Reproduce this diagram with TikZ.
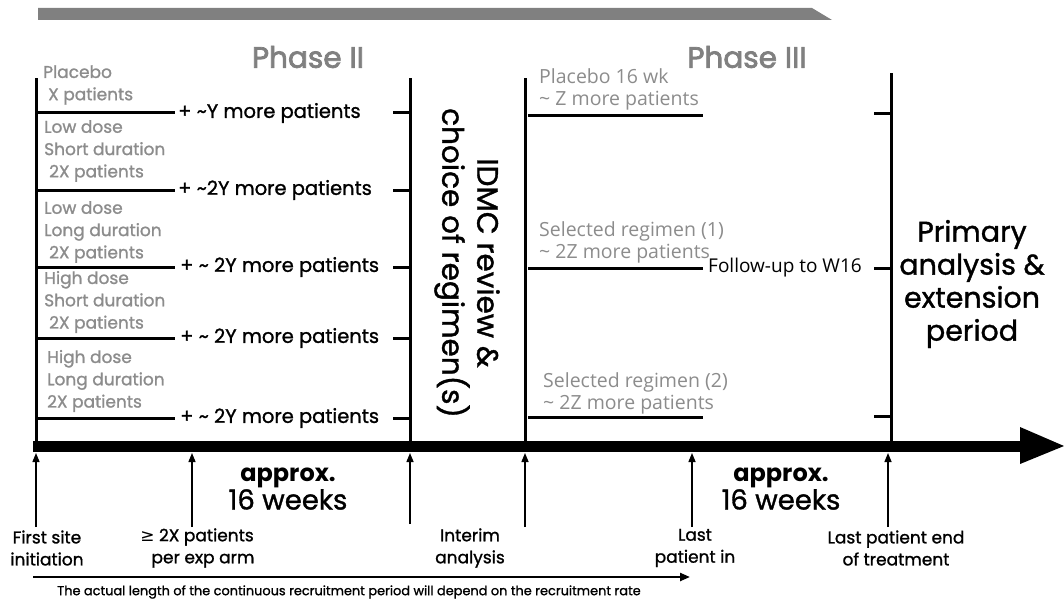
\documentclass[tikz,border=0pt]{standalone}
\usepackage{fontspec}
\setmainfont{Poppins}[FakeBold=1.2]
\newfontfamily\plainfont{Poppins}
\newfontfamily\headfont{Poppins}[FakeBold=2.5]
\newfontfamily\labelfont{Open Sans}
\newfontfamily\symbolfont{DejaVu Sans}
\usetikzlibrary{positioning,arrows.meta}

\definecolor{armgray}{HTML}{8C8C8C}
\definecolor{bargray}{HTML}{808080}

\tikzset{
  thick line/.style={line width=3pt},
  armtext/.style={anchor=west, align=left, inner sep=0pt, text=armgray,
    font=\fontsize{17}{22.3}\selectfont},
  moretext/.style={anchor=west, inner sep=0pt, font=\fontsize{19.5}{20}\selectfont},
  phasetext/.style={inner sep=0pt, text=bargray, font=\headfont\fontsize{29.5}{30}\selectfont},
  regimentext/.style={anchor=west, align=left, inner sep=0pt, text=armgray,
    font=\labelfont\fontsize{19.5}{22}\selectfont},
  milestone/.style={align=center, inner sep=0pt, font=\fontsize{17}{22}\selectfont},
  weeks/.style={align=center, inner sep=0pt, font=\fontsize{27.5}{26}\selectfont},
  uparrow/.style={line width=1.4pt, -{Triangle[length=9pt,width=7pt]}}
}

\begin{document}
\begin{tikzpicture}[x=1pt,y=-1pt]
\useasboundingbox (0,0) rectangle (1064,602);

% banner
\fill[bargray] (38,8) -- (812,8) -- (832,20) -- (38,20) -- cycle;

% headers
\node[phasetext] (ph2) at (308,57) {Phase II};
\node[phasetext] (ph3) at (747,57) {Phase III};

% time line
\coordinate (tstart) at (33,446.5);
\coordinate (tend) at (1021,446.5);
\draw[line width=11pt] (tstart) -- (tend);
\fill (1020,427) -- (1064,446) -- (1020,464) -- cycle;

% phase borders
\draw[thick line] (36,78) -- (36,441);
\draw[thick line] (410,78) -- (410,441);
\draw[thick line] (525,78) -- (525,441);
\draw[thick line] (891,73) -- (891,441);

% phase II arms
\foreach \y in {112,190,267,338,418}{
  \draw[thick line] (36,\y) -- (175,\y);
  \draw[thick line] (393,\y) -- (410,\y);
}
\node[armtext] (placebo) at (43,85) {Placebo\\\hspace{5pt}X patients};
\node[armtext] (lowshort) at (44,151) {Low dose\\Short duration\\\hspace{5pt}2X patients};
\node[armtext] (lowlong) at (44,232) {Low dose\\Long duration\\\hspace{5pt}2X patients};
\node[armtext] (highshort) at (44,302) {High dose\\Short duration\\\hspace{5pt}2X patients};
\node[armtext] (highlong) at (47,381) {High dose\\Long duration\\2X patients};

\node[moretext] (more1) at (178,113) {+ \textasciitilde Y more patients};
\node[moretext] (more2) at (178,190) {+ \textasciitilde 2Y more patients};
\node[moretext] (more3) at (180,267) {+ \textasciitilde\ 2Y more patients};
\node[moretext] (more4) at (180,338) {+ \textasciitilde\ 2Y more patients};
\node[moretext] (more5) at (180,418) {+ \textasciitilde\ 2Y more patients};

% IDMC
\node[rotate=-90, align=center, inner sep=0pt, font=\fontsize{29.5}{35}\selectfont]
  (idmc) at (467,263) {IDMC review \&\\choice of regimen(s)};

% phase III arms
\foreach \y in {115,268,417}{
  \draw[thick line] (528,\y) -- (703,\y);
}
\foreach \y in {113,268,416}{
  \draw[thick line] (874,\y) -- (891,\y);
}
\node[regimentext] (plac16) at (539,89) {Placebo 16 wk\\\textasciitilde\ Z more patients};
\node[regimentext] (sel1) at (539,242.5) {Selected regimen (1)\\\textasciitilde\ 2Z more patients};
\node[regimentext] (sel2) at (543,393.5) {Selected regimen (2)\\\textasciitilde\ 2Z more patients};
\node[anchor=west, inner sep=0pt, font=\labelfont\fontsize{19}{20}\selectfont]
  (follow) at (708,268) {Follow-up to W16};

\node[align=center, inner sep=0pt, font=\fontsize{28.5}{33}\selectfont]
  (primary) at (972,284) {Primary\\analysis \&\\extension\\period};

% durations
\node[weeks] (dur1) at (288,489) {{\plainfont\bfseries\fontsize{24}{26}\selectfont approx.}\\16 weeks};
\node[weeks] (dur2) at (781,489) {{\plainfont\bfseries\fontsize{24}{26}\selectfont approx.}\\16 weeks};

% milestones
\node[milestone] (first) at (47,548) {First site\\initiation};
\node[milestone] (twox) at (197,548) {{\symbolfont ≥} 2X patients\\\hspace{12pt}per exp arm};
\node[milestone] (interim) at (470,548) {Interim\\analysis};
\node[milestone] (lpi) at (695,548) {Last\\patient in};
\node[milestone] (lpe) at (896,548) {Last patient end\\of treatment};

\coordinate (m1) at (36,453);
\coordinate (m2) at (192,453);
\coordinate (m3) at (410,453);
\coordinate (m4) at (525,453);
\coordinate (m5) at (692,453);
\coordinate (m6) at (888,453);
\draw[uparrow] (36,527) -- (m1);
\draw[uparrow] (192,527) -- (m2);
\draw[uparrow] (410,524) -- (m3);
\draw[uparrow] (525,527) -- (m4);
\draw[uparrow] (692,527) -- (m5);
\draw[uparrow] (888,527) -- (m6);

% recruitment
\coordinate (rstart) at (33,577);
\coordinate (rend) at (690,577);
\draw[line width=2.2pt, -{Triangle[length=10pt,width=8pt]}] (rstart) -- (rend);
\node[inner sep=0pt, font=\fontsize{12.9}{14}\selectfont] (caption) at (349,592)
  {The actual length of the continuous recruitment period will depend on the recruitment rate};
\end{tikzpicture}
\end{document}
